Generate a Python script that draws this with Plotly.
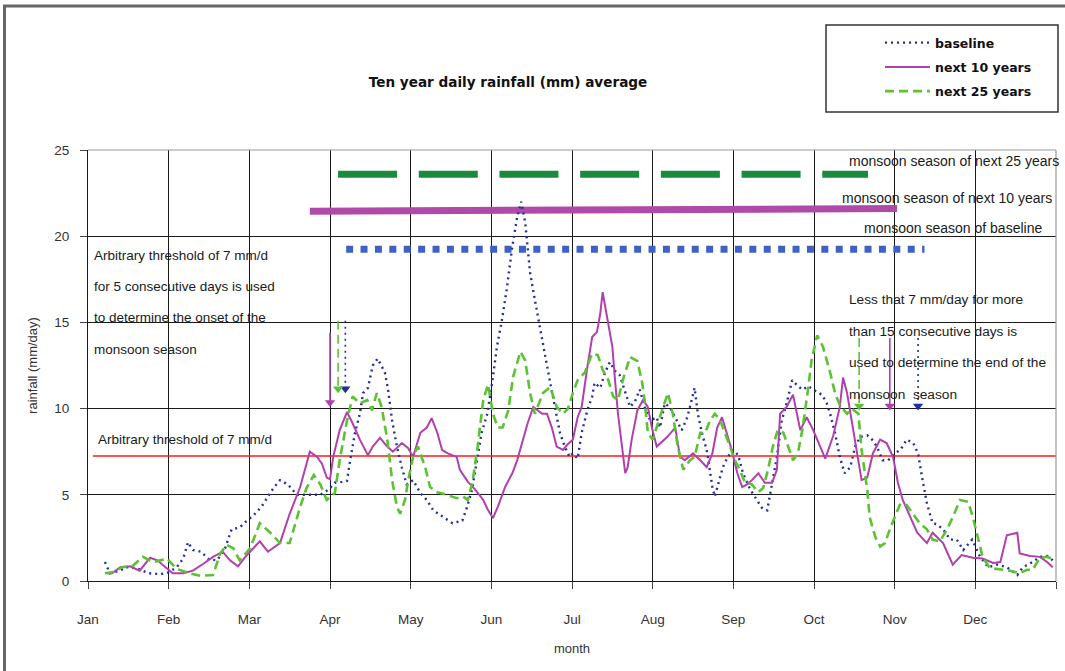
import plotly.graph_objects as go

# ---------------- data (x in months: 0 = 1 Jan, 12 = 31 Dec) ----------------
months = ["Jan", "Feb", "Mar", "Apr", "May", "Jun", "Jul", "Aug", "Sep", "Oct", "Nov", "Dec"]

baseline_x = [0.21, 0.27, 0.40, 0.47, 0.60, 0.75, 0.90, 1.00, 1.10, 1.18, 1.24, 1.30, 1.40, 1.50, 1.60,
              1.70, 1.78, 1.88, 1.97, 2.05, 2.15, 2.22, 2.30, 2.38, 2.48, 2.59, 2.75, 2.88, 2.98, 3.06,
              3.15, 3.21, 3.25, 3.31, 3.37, 3.41, 3.47, 3.53, 3.59, 3.68, 3.72, 3.77, 3.83, 3.89, 3.95,
              4.03, 4.12, 4.20, 4.28, 4.40, 4.52, 4.64, 4.70, 4.76, 4.82, 4.88, 4.95, 5.01, 5.07, 5.13,
              5.19, 5.26, 5.32, 5.37, 5.42, 5.48, 5.54, 5.60, 5.67, 5.73, 5.79, 5.85, 5.91, 5.97, 6.01,
              6.07, 6.12, 6.19, 6.25, 6.28, 6.35, 6.41, 6.47, 6.53, 6.59, 6.66, 6.72, 6.78, 6.84, 6.90,
              6.97, 7.05, 7.09, 7.15, 7.21, 7.30, 7.36, 7.43, 7.49, 7.52, 7.56, 7.61, 7.67, 7.74, 7.77,
              7.83, 7.87, 7.93, 8.00, 8.06, 8.12, 8.21, 8.29, 8.36, 8.42, 8.48, 8.54, 8.60, 8.66, 8.73,
              8.80, 8.86, 8.93, 8.99, 9.10, 9.16, 9.20, 9.26, 9.32, 9.38, 9.45, 9.51, 9.57, 9.66, 9.72,
              9.78, 9.85, 9.92, 10.00, 10.07, 10.15, 10.23, 10.29, 10.34, 10.40, 10.47, 10.52, 10.60,
              10.69, 10.77, 10.85, 10.96, 11.06, 11.16, 11.27, 11.39, 11.52, 11.59, 11.71, 11.80, 11.89,
              11.96]
baseline_y = [1.1, 0.45, 0.6, 0.8, 0.75, 0.45, 0.4, 0.5, 0.8, 1.3, 2.25, 1.8, 1.7, 1.25, 1.2,
              1.9, 3.0, 3.1, 3.5, 3.8, 4.3, 4.8, 5.4, 5.85, 5.6, 5.0, 5.0, 5.0, 5.3, 5.7,
              5.75, 5.8, 7.0, 8.6, 9.7, 10.9, 11.2, 12.5, 12.9, 12.1, 11.1, 9.3, 7.8, 6.6, 5.6,
              5.85, 5.1, 4.7, 4.1, 3.7, 3.35, 3.5, 4.3, 5.3, 6.85, 8.6, 9.7, 11.5, 13.6, 15.1,
              16.9, 19.4, 21.1, 22.0, 20.8, 17.9, 16.3, 14.7, 13.0, 11.5, 10.1, 8.6, 7.8, 7.2, 7.4,
              7.1, 8.6, 9.9, 10.7, 11.5, 11.2, 12.1, 12.7, 12.2, 11.95, 10.9, 10.1, 10.4, 11.1, 10.1,
              9.3, 9.5, 8.9, 10.3, 10.1, 9.3, 8.75, 9.5, 10.7, 11.2, 9.7, 8.6, 7.6, 5.45, 4.9,
              5.85, 6.6, 7.2, 7.6, 7.3, 6.25, 5.3, 4.7, 4.2, 4.1, 5.7, 7.2, 9.3, 10.3, 11.65,
              11.3, 11.1, 11.3, 11.1, 10.8, 10.3, 9.7, 8.6, 7.2, 6.25, 6.6, 7.8, 8.35, 8.45, 8.2,
              7.8, 7.0, 7.0, 7.4, 7.6, 8.2, 8.0, 7.4, 6.0, 4.5, 3.35, 3.3, 3.0,
              2.4, 2.4, 1.8, 2.4, 1.4, 0.8, 0.95, 0.8, 0.35, 0.8, 1.1, 1.4, 1.45,
              1.2]

next10_x = [0.24, 0.30, 0.40, 0.52, 0.64, 0.77, 0.86, 0.95, 1.05, 1.18, 1.30, 1.43, 1.55, 1.67, 1.76,
            1.86, 1.95, 2.05, 2.13, 2.23, 2.38, 2.50, 2.63, 2.75, 2.84, 2.90, 2.96, 3.00, 3.04, 3.12,
            3.21, 3.28, 3.37, 3.47, 3.53, 3.62, 3.71, 3.78, 3.89, 3.97, 4.03, 4.12, 4.20, 4.26, 4.33,
            4.39, 4.46, 4.57, 4.61, 4.71, 4.80, 4.90, 4.96, 5.02, 5.08, 5.17, 5.26, 5.32, 5.39, 5.45,
            5.52, 5.57, 5.63, 5.69, 5.75, 5.81, 5.89, 5.94, 6.01, 6.07, 6.12, 6.19, 6.25, 6.31, 6.35,
            6.38, 6.43, 6.50, 6.53, 6.57, 6.62, 6.66, 6.69, 6.74, 6.81, 6.88, 6.94, 6.99, 7.05, 7.12,
            7.18, 7.28, 7.34, 7.40, 7.50, 7.59, 7.67, 7.74, 7.80, 7.86, 7.92, 7.98, 8.05, 8.11, 8.17,
            8.23, 8.31, 8.39, 8.48, 8.54, 8.58, 8.66, 8.74, 8.83, 8.91, 8.99, 9.14, 9.24, 9.32, 9.36,
            9.41, 9.47, 9.53, 9.59, 9.66, 9.73, 9.82, 9.90, 9.98, 10.04, 10.10, 10.19, 10.28, 10.40,
            10.47, 10.60, 10.72, 10.83, 10.97, 11.09, 11.22, 11.31, 11.39, 11.52, 11.55, 11.68, 11.80,
            11.89, 11.96]
next10_y = [0.45, 0.45, 0.8, 0.85, 0.6, 1.35, 1.2, 0.85, 0.45, 0.45, 0.6, 1.0, 1.4, 1.7, 1.2,
            0.85, 1.4, 1.9, 2.3, 1.7, 2.2, 3.9, 5.45, 7.5, 7.2, 6.8, 6.0, 5.9, 7.2, 8.75,
            9.8, 9.15, 8.2, 7.3, 7.8, 8.3, 7.8, 7.5, 8.0, 7.7, 7.2, 8.6, 8.9, 9.45, 8.6,
            7.6, 7.4, 7.2, 6.45, 5.75, 5.3, 4.7, 4.1, 3.65, 4.3, 5.45, 6.25, 7.0, 8.2, 9.15,
            10.1, 9.9, 9.7, 9.7, 8.9, 7.8, 7.6, 7.9, 8.2, 9.5, 10.1, 12.4, 14.15, 14.45, 15.5,
            16.75, 15.5, 13.6, 11.85, 9.7, 7.8, 6.25, 6.6, 8.2, 9.9, 10.5, 10.1, 8.9, 7.8, 8.1,
            8.35, 8.9, 7.2, 7.0, 7.4, 7.0, 6.6, 7.4, 8.9, 9.5, 8.6, 7.6, 6.25, 5.45, 5.6,
            5.85, 6.25, 5.7, 5.7, 6.45, 9.7, 10.1, 10.8, 8.75, 9.5, 8.75, 7.1, 8.45, 10.1, 11.8,
            10.9, 9.3, 7.6, 5.85, 6.0, 7.4, 8.2, 8.0, 7.2, 5.7, 4.7, 3.7, 2.8, 2.2,
            2.8, 2.2, 0.95, 1.5, 1.35, 1.3, 1.05, 1.1, 2.65, 2.8, 1.6, 1.45, 1.4,
            1.1, 0.8]

next25_x = [0.21, 0.30, 0.43, 0.56, 0.68, 0.81, 0.98, 1.10, 1.26, 1.39, 1.55, 1.64, 1.72, 1.80, 1.88,
            2.01, 2.13, 2.26, 2.38, 2.50, 2.63, 2.71, 2.80, 2.88, 2.96, 3.06, 3.12, 3.21, 3.28, 3.37,
            3.46, 3.52, 3.58, 3.64, 3.71, 3.77, 3.83, 3.87, 3.93, 3.97, 4.03, 4.09, 4.18, 4.24, 4.33,
            4.45, 4.57, 4.65, 4.71, 4.77, 4.83, 4.90, 4.96, 5.02, 5.08, 5.14, 5.21, 5.27, 5.36, 5.42,
            5.48, 5.54, 5.64, 5.73, 5.81, 5.89, 5.95, 6.01, 6.07, 6.16, 6.25, 6.32, 6.38, 6.45, 6.51,
            6.57, 6.63, 6.72, 6.81, 6.87, 6.90, 6.94, 7.00, 7.07, 7.13, 7.19, 7.25, 7.31, 7.38, 7.46,
            7.52, 7.59, 7.65, 7.71, 7.77, 7.83, 7.90, 7.96, 8.02, 8.08, 8.14, 8.23, 8.31, 8.37, 8.43,
            8.49, 8.55, 8.62, 8.68, 8.74, 8.80, 8.86, 8.93, 8.97, 9.04, 9.11, 9.20, 9.26, 9.32, 9.41,
            9.47, 9.55, 9.59, 9.66, 9.69, 9.76, 9.82, 9.88, 9.94, 10.00, 10.07, 10.15, 10.23, 10.31,
            10.40, 10.47, 10.56, 10.65, 10.72, 10.81, 10.91, 10.97, 11.03, 11.09, 11.18, 11.31, 11.43,
            11.55, 11.64, 11.71, 11.80, 11.89, 11.95]
next25_y = [0.45, 0.5, 0.8, 0.9, 1.4, 1.1, 1.3, 0.7, 0.45, 0.3, 0.35, 1.6, 2.1, 1.9, 1.2,
            1.9, 3.35, 2.8, 2.2, 2.2, 4.3, 5.4, 6.15, 5.6, 4.7, 5.1, 7.0, 9.3, 10.7, 10.3,
            10.5, 9.9, 10.9, 10.1, 8.2, 5.85, 4.3, 3.9, 4.7, 5.85, 7.2, 7.8, 6.6, 5.45, 5.15,
            5.0, 4.8, 4.9, 4.7, 5.85, 7.8, 10.5, 11.4, 9.7, 8.9, 8.9, 9.9, 11.85, 13.3, 12.8,
            10.9, 9.7, 10.9, 11.25, 10.1, 9.7, 10.0, 10.9, 11.65, 12.1, 13.2, 13.1, 12.25, 11.65, 10.7,
            10.5, 11.65, 13.0, 12.75, 11.5, 10.5, 8.6, 8.2, 9.3, 10.1, 10.9, 9.7, 7.8, 6.45, 7.0,
            7.2, 8.6, 8.6, 9.3, 9.7, 9.4, 8.6, 7.8, 7.0, 6.45, 5.75, 5.6, 5.15, 5.4, 6.45,
            7.8, 8.75, 8.6, 7.8, 7.0, 7.4, 8.9, 11.25, 12.8, 14.25, 13.6, 12.1, 10.9, 10.2, 9.7,
            10.0, 9.7, 7.6, 5.3, 3.7, 2.55, 2.0, 2.2, 3.0, 3.7, 4.5, 4.4, 3.9, 3.35,
            3.0, 2.4, 2.3, 3.0, 3.7, 4.7, 4.6, 3.7, 2.55, 1.4, 0.75, 0.65, 0.6,
            0.45, 0.65, 0.65, 1.35, 1.4, 1.3]

threshold_value = 7.25
threshold_x = [0.06, 12.0]

# monsoon season bars: [start month, end month], level
season25_x = [3.10, 9.67]
season25_y = [23.6, 23.6]
season10_x = [2.75, 10.03]
season10_y = [21.45, 21.6]
seasonbase_x = [3.20, 10.37]
seasonbase_y = [19.25, 19.25]

# onset / end arrows: x position (month), top and tip value (mm/day)
arrow_names = ["onset_base", "onset_10", "onset_25", "end_25", "end_10", "end_base"]
arrow_x = [3.19, 3.00, 3.10, 9.56, 9.94, 10.29]
arrow_top = [15.1, 14.4, 15.1, 14.1, 14.1, 14.1]
arrow_tip = [10.9, 10.1, 10.9, 9.9, 9.9, 9.9]
arrow_series = ["base", "n10", "n25", "n25", "n10", "base"]

# ---------------- styles ----------------
C_BASE = "#22309f"
C_N10 = "#b23fae"
C_N25 = "#5cc234"
C_BAR25 = "#1c8a3d"
C_BAR10 = "#b04aa8"
C_BARB = "#3d62c4"
styles = {
    "base": dict(color=C_BASE, dash="2px,4px", width=2.4),
    "n10": dict(color=C_N10, dash="solid", width=2),
    "n25": dict(color=C_N25, dash="9px,5px", width=2.6),
}
FONT = "Liberation Sans, Arial, sans-serif"
TXT = "#1a1a1a"

fig = go.Figure()

# season bars
fig.add_trace(go.Scatter(x=season25_x, y=season25_y, mode="lines", showlegend=False, hoverinfo="skip",
                         line=dict(color=C_BAR25, width=7, dash="59px,21.7px")))
fig.add_trace(go.Scatter(x=season10_x, y=season10_y, mode="lines", showlegend=False, hoverinfo="skip",
                         line=dict(color=C_BAR10, width=7)))
fig.add_trace(go.Scatter(x=seasonbase_x, y=seasonbase_y, mode="lines", showlegend=False, hoverinfo="skip",
                         line=dict(color=C_BARB, width=7, dash="7px,7.4px")))

# threshold
fig.add_trace(go.Scatter(x=threshold_x, y=[threshold_value, threshold_value], mode="lines",
                         showlegend=False, hoverinfo="skip", line=dict(color="#ff1a1a", width=1.3)))

# series
fig.add_trace(go.Scatter(x=baseline_x, y=baseline_y, mode="lines", name="<b>baseline</b>",
                         legendgroup="a", line=styles["base"]))
fig.add_trace(go.Scatter(x=next10_x, y=next10_y, mode="lines", name="<b>next 10 years</b>",
                         legendgroup="b", line=styles["n10"]))
fig.add_trace(go.Scatter(x=next25_x, y=next25_y, mode="lines", name="<b>next 25 years</b>",
                         legendgroup="c", line=styles["n25"]))

# arrows
for ax, top, tip, s in zip(arrow_x, arrow_top, arrow_tip, arrow_series):
    st = styles[s]
    fig.add_trace(go.Scatter(x=[ax, ax], y=[top, tip + 0.3], mode="lines", showlegend=False,
                             hoverinfo="skip", line=dict(color=st["color"], width=1.6, dash=st["dash"])))
    fig.add_trace(go.Scatter(x=[ax], y=[tip + 0.25], mode="markers", showlegend=False, hoverinfo="skip",
                             marker=dict(symbol="triangle-down", size=9, color=st["color"],
                                         line=dict(width=0))))

# text annotations (data coordinates)
notes = [
    (0.10, 8.18, "Arbitrary threshold of 7 mm/d", 13.5),
    (0.05, 18.9, "Arbitrary threshold of 7 mm/d", 13.5),
    (0.05, 17.1, "for 5 consecutive days is used", 13.5),
    (0.05, 15.3, "to determine the onset of the", 13.5),
    (0.05, 13.45, "monsoon season", 13.5),
    (9.41, 24.36, "monsoon season of next 25 years", 14),
    (9.32, 22.2, "monsoon season of next 10 years", 14),
    (9.59, 20.5, "monsoon season of baseline", 14),
    (9.41, 16.3, "Less that 7 mm/day for more", 13.7),
    (9.41, 14.45, "than 15 consecutive days is", 13.7),
    (9.41, 12.65, "used to determine the end of the", 13.7),
    (9.41, 10.8, "monsoon  season", 13.7),
]
annotations = [dict(x=x, y=y, xref="x", yref="y", text=t, showarrow=False, xanchor="left",
                    yanchor="middle", font=dict(family=FONT, size=fs, color=TXT))
               for x, y, t, fs in notes]

# paper-coordinate helpers for frame pieces
def px(xp):
    return (xp - 88) / 968.0

def py(yp):
    return (581 - yp) / 431.0

shapes = [
    # outer frame (left + top)
    dict(type="line", xref="paper", yref="paper", x0=px(4.5), x1=px(4.5), y0=py(5), y1=py(675),
         line=dict(color="#666666", width=3)),
    dict(type="line", xref="paper", yref="paper", x0=px(3), x1=px(1070), y0=py(6), y1=py(6),
         line=dict(color="#666666", width=3)),
    # plot area top/right border
    dict(type="line", xref="paper", yref="paper", x0=0, x1=1, y0=1, y1=1,
         line=dict(color="#9a9a9a", width=1.2)),
    dict(type="line", xref="paper", yref="paper", x0=1, x1=1, y0=0, y1=1,
         line=dict(color="#9a9a9a", width=1.2)),
    # legend box
    dict(type="rect", xref="paper", yref="paper", x0=px(826), x1=px(1058), y0=py(112), y1=py(25),
         line=dict(color="#333333", width=1.5), fillcolor="rgba(0,0,0,0)"),
]

fig.update_layout(
    template="none",
    width=1065, height=671, autosize=False,
    margin=dict(l=88, r=9, t=150, b=90, pad=0),
    paper_bgcolor="white", plot_bgcolor="white",
    hovermode=False,
    title=dict(text="<b>Ten year daily rainfall (mm) average</b>", x=px(508), xref="paper",
               y=1 - 82 / 671.0, yref="container", xanchor="center", yanchor="middle",
               font=dict(family="DejaVu Sans", size=13.6, color="#111")),
    xaxis=dict(range=[0, 12], tickvals=list(range(13)), ticktext=months + [""],
               ticks="outside", ticklen=7, tickcolor="#444", tickwidth=1,
               tickfont=dict(family=FONT, size=13.5, color="#333"), ticklabelstandoff=19,
               showgrid=True, gridcolor="#1a1a1a", gridwidth=1.2,
               showline=True, linecolor="#1a1a1a", linewidth=1.2, zeroline=False, automargin=False,
               title=dict(text="month", font=dict(family=FONT, size=13, color="#333"), standoff=17)),
    yaxis=dict(range=[0, 25], tickvals=[0, 5, 10, 15, 20, 25],
               ticks="outside", ticklen=7, tickcolor="#444", tickwidth=1,
               tickfont=dict(family=FONT, size=13.5, color="#333"), ticklabelstandoff=8,
               showgrid=True, gridcolor="#1a1a1a", gridwidth=1.2,
               showline=True, linecolor="#1a1a1a", linewidth=1.2, zeroline=False, automargin=False,
               title=dict(text="rainfall (mm/day)", font=dict(family=FONT, size=13, color="#333"),
                          standoff=13)),
    showlegend=True,
    legend=dict(x=px(880), y=py(28), xanchor="left", yanchor="top", bgcolor="rgba(0,0,0,0)",
                borderwidth=0, font=dict(family="DejaVu Sans", size=12.5, color="#111"),
                traceorder="grouped", tracegroupgap=5, itemwidth=45),
    annotations=annotations,
    shapes=shapes,
)

fig.write_html("out.html", config={"displayModeBar": False},
               post_script="document.body.style.margin='0';document.body.style.overflow='hidden';")
